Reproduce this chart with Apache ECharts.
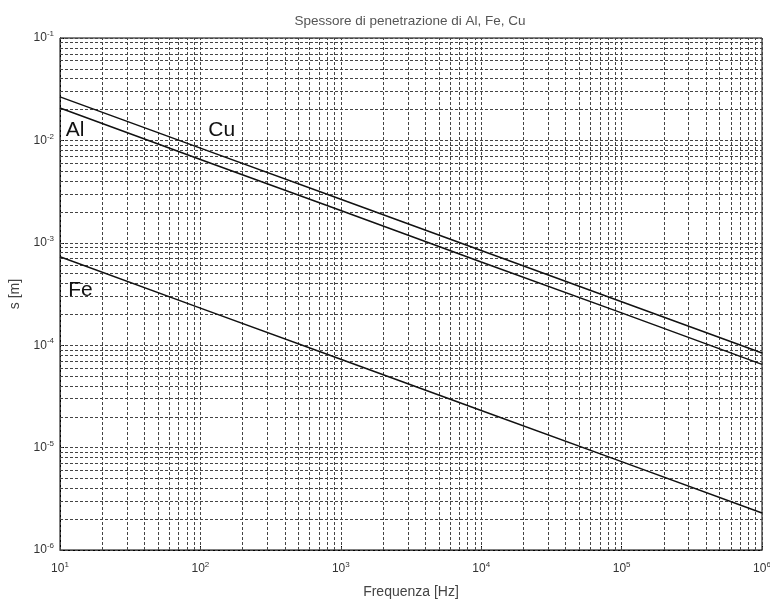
<!DOCTYPE html>
<html>
<head>
<meta charset="utf-8">
<script src="https://cdn.jsdelivr.net/npm/echarts@6/dist/echarts.min.js"></script>
<style>html,body{margin:0;padding:0;background:#fff;}#c{width:770px;height:600px;}</style>
</head>
<body>
<div id="c"></div>
<script>
// Data (skin depth vs frequency)
var frequencies = [10, 100, 1000, 10000, 100000, 1000000];
var alValues = [0.0266, 0.0084, 0.00266, 0.00084, 0.000266, 0.000084];
var cuValues = [0.0207, 0.0065, 0.00207, 0.00065, 0.000207, 0.000065];
var feValues = [0.00073, 0.00023, 0.000073, 0.000023, 0.0000073, 0.0000023];
var xTickExps = [1, 2, 3, 4, 5, 6];
var yTickExps = [-6, -5, -4, -3, -2, -1];
var curveLabels = [
  {name: 'Al', coord: [12.8, 0.0127]},
  {name: 'Cu', coord: [142, 0.0127]},
  {name: 'Fe', coord: [14.0, 0.000345]}
];

function pairs(xs, ys) { return xs.map(function (x, i) { return [x, ys[i]]; }); }

// grid lines at 1..9 x 10^k (MATLAB-style log grid)
var gridData = [];
for (var e = 1; e <= 5; e++) {
  for (var m = 1; m <= 9; m++) gridData.push({xAxis: m * Math.pow(10, e)});
}
gridData.push({xAxis: 1e6});
for (var e2 = -6; e2 <= -2; e2++) {
  for (var m2 = 1; m2 <= 9; m2++) gridData.push({yAxis: +(m2 * Math.pow(10, e2)).toPrecision(3)});
}
gridData.push({yAxis: 0.1});

function expLabel(v) {
  var e = Math.round(Math.log10(v));
  return '{b|10}{s|' + e + '}';
}
var richLab = {
  b: {fontSize: 12, fontFamily: 'Liberation Sans', color: '#333', lineHeight: 16},
  s: {fontSize: 8, fontFamily: 'Liberation Sans', color: '#333', verticalAlign: 'top', lineHeight: 16, padding: [0, 0, 8, 0]}
};

var lineStyle = {color: '#111', width: 1.5};
var chart = echarts.init(document.getElementById('c'), null, {renderer: 'canvas'});
chart.setOption({
  animation: false,
  backgroundColor: '#fff',
  title: {
    text: 'Spessore di penetrazione di Al, Fe, Cu',
    left: 405, top: 9, textAlign: 'center',
    textStyle: {fontSize: 13.5, fontWeight: 'normal', color: '#555', fontFamily: 'Liberation Sans'}
  },
  grid: {left: 60, right: 8, top: 38, bottom: 50, show: true, borderColor: '#000', borderWidth: 1,
         containLabel: false, outerBoundsMode: 'none'},
  xAxis: {
    type: 'log', logBase: 10, min: 10, max: 1e6,
    name: 'Frequenza [Hz]', nameLocation: 'middle', nameGap: 35,
    nameTextStyle: {fontSize: 14, color: '#444', fontFamily: 'Liberation Sans'},
    axisLine: {show: true, lineStyle: {color: '#000'}},
    axisTick: {show: true, inside: true, length: 4, lineStyle: {color: '#000'}},
    splitLine: {show: false},
    axisLabel: {formatter: expLabel, rich: richLab, margin: 11}
  },
  yAxis: {
    type: 'log', logBase: 10, min: 1e-6, max: 0.1,
    name: 's [m]', nameLocation: 'middle', nameGap: 34,
    nameTextStyle: {fontSize: 14, color: '#444', fontFamily: 'Liberation Sans'},
    axisLine: {show: true, lineStyle: {color: '#000'}},
    axisTick: {show: true, inside: true, length: 4, lineStyle: {color: '#000'}},
    splitLine: {show: false},
    axisLabel: {formatter: expLabel, rich: richLab, margin: 6}
  },
  series: [
    {
      name: 'grid', type: 'line', data: [], silent: true,
      markLine: {
        silent: true, symbol: ['none', 'none'], animation: false, precision: 12,
        label: {show: false},
        lineStyle: {type: [3, 2], color: '#444', width: 1},
        emphasis: {disabled: true},
        data: gridData
      }
    },
    {name: 'Al', type: 'line', data: pairs(frequencies, alValues), showSymbol: false, lineStyle: lineStyle, z: 5},
    {name: 'Cu', type: 'line', data: pairs(frequencies, cuValues), showSymbol: false, lineStyle: lineStyle, z: 5},
    {
      name: 'Fe', type: 'line', data: pairs(frequencies, feValues), showSymbol: false, lineStyle: lineStyle, z: 5,
      markPoint: {
        symbol: 'circle', symbolSize: 0, silent: true,
        label: {show: true, position: 'inside', formatter: '{b}', fontSize: 21, color: '#111', fontFamily: 'Liberation Sans'},
        data: curveLabels.map(function (c) { return {name: c.name, coord: c.coord}; })
      }
    }
  ]
});
</script>
</body>
</html>
